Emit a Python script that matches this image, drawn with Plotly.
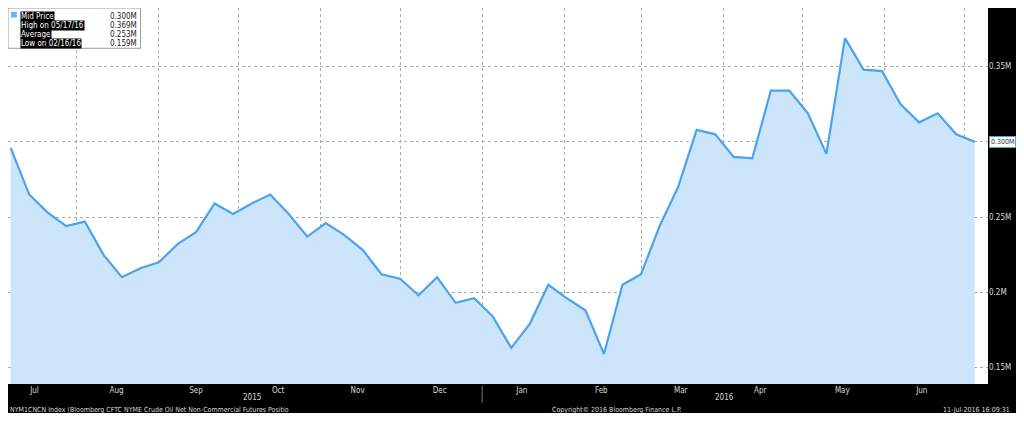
import plotly.graph_objects as go
import pandas as pd

start = "2015-07-07"
values = [0.296, 0.265, 0.253, 0.244, 0.247, 0.225, 0.210, 0.216, 0.220, 0.232,
          0.240, 0.259, 0.252, 0.259, 0.265, 0.252, 0.237, 0.246, 0.238, 0.228,
          0.212, 0.209, 0.198, 0.210, 0.193, 0.196, 0.184, 0.163, 0.179, 0.205,
          0.196, 0.188, 0.159, 0.205, 0.212, 0.244, 0.270, 0.308, 0.305, 0.290,
          0.289, 0.334, 0.334, 0.319, 0.292, 0.369, 0.348, 0.347, 0.325, 0.313,
          0.319, 0.305, 0.300]
dates = pd.date_range(start, periods=len(values), freq="7D")

month_mids = ["2015-07-16", "2015-08-16", "2015-09-15", "2015-10-16", "2015-11-15",
              "2015-12-16", "2016-01-16", "2016-02-15", "2016-03-16", "2016-04-15",
              "2016-05-16", "2016-06-15"]
month_labels = ["Jul", "Aug", "Sep", "Oct", "Nov", "Dec", "Jan", "Feb", "Mar", "Apr", "May", "Jun"]
y_ticks = [0.15, 0.2, 0.25, 0.3, 0.35]
y_labels = ["0.15M", "0.2M", "0.25M", "0.300M", "0.35M"]

legend_names = ["Mid Price", "High on 05/17/16", "Average", "Low on 02/16/16"]
legend_vals = ["0.300M", "0.369M", "0.253M", "0.159M"]

W, H = 998, 392  # plot area in px

fig = go.Figure()
fig.add_trace(go.Scatter(
    x=dates, y=values, mode="lines",
    line=dict(color="#4aa3ee", width=2.2),
    fill="tozeroy", fillcolor="#cde5fb",
    showlegend=False, hoverinfo="x+y"
))

font = dict(family="DejaVu Sans Condensed", size=8, color="#d8d8d8")
small = dict(family="DejaVu Sans Condensed", size=7, color="#d8d8d8")
annotations = []
for i, (n, v) in enumerate(zip(legend_names, legend_vals)):
    yy = 1 - (3 + i * 9.5) / H
    annotations.append(dict(xref="paper", yref="paper", x=12 / W, y=yy, text=n,
                            showarrow=False, xanchor="left", yanchor="top",
                            bgcolor="black", font=dict(family="DejaVu Sans Condensed", size=8, color="white"),
                            borderpad=0))
    annotations.append(dict(xref="paper", yref="paper", x=132 / W, y=yy, text=v,
                            showarrow=False, xanchor="right", yanchor="top",
                            font=dict(family="DejaVu Sans Condensed", size=8, color="#222"),
                            borderpad=0))
annotations += [
    dict(xref="paper", yref="paper", x=237 / W, y=-14 / H, text="2015", showarrow=False,
         yanchor="middle", font=font),
    dict(xref="paper", yref="paper", x=741 / W, y=-14 / H, text="2016", showarrow=False,
         yanchor="middle", font=font),
    dict(xref="paper", yref="paper", x=0, y=-21 / H, text="NYM1CNCN Index (Bloomberg CFTC NYME Crude Oil Net Non-Commercial Futures Positio",
         showarrow=False, xanchor="left", yanchor="top", font=small),
    dict(xref="paper", yref="paper", x=552 / W, y=-21 / H, text="Copyright© 2016 Bloomberg Finance L.P.",
         showarrow=False, xanchor="left", yanchor="top", font=small),
    dict(xref="paper", yref="paper", x=1022 / W, y=-21 / H, text="11-Jul-2016 16:09:31",
         showarrow=False, xanchor="right", yanchor="top", font=small),
    dict(xref="paper", y=values[-1], x=1.001, text="0.300M", showarrow=False, xanchor="left",
         bgcolor="white", bordercolor="#4aa3ee", borderwidth=1, borderpad=1,
         font=dict(family="DejaVu Sans Condensed", size=7, color="#333")),
]

shapes = [
    dict(type="rect", xref="paper", yref="paper", x0=0, x1=135 / W, y0=1 - 42 / H, y1=1,
         fillcolor="white", line=dict(color="#999", width=1), layer="above"),
    dict(type="rect", xref="paper", yref="paper", x0=3 / W, x1=9 / W, y0=1 - 10 / H, y1=1 - 4 / H,
         fillcolor="#6cb4f5", line=dict(width=0), layer="above"),
    dict(type="line", xref="x", yref="paper", x0="2016-01-01", x1="2016-01-01", y0=-20 / H, y1=-2 / H,
         line=dict(color="#777", width=1)),
]

fig.update_layout(
    autosize=True,
    margin=dict(l=0, r=26, t=0, b=29),
    paper_bgcolor="black", plot_bgcolor="white",
    shapes=shapes, annotations=annotations,
    xaxis=dict(range=["2015-07-06", "2016-07-10"], tickvals=month_mids, ticktext=month_labels,
               showgrid=False, ticks="", tickfont=font, zeroline=False,
               minor=dict(dtick="M1", tick0="2015-07-01", showgrid=True, gridcolor="#aaa", griddash="dot")),
    yaxis=dict(range=[0.139, 0.389], side="right", tickvals=y_ticks, ticktext=y_labels,
               showgrid=True, gridcolor="#aaa", griddash="dot", zeroline=False, tickfont=font, ticks=""),
    hovermode="x",
)

fig.write_html("out.html", config={"responsive": True}, default_width="100%", default_height="100%",
               include_plotlyjs=True, full_html=True)
